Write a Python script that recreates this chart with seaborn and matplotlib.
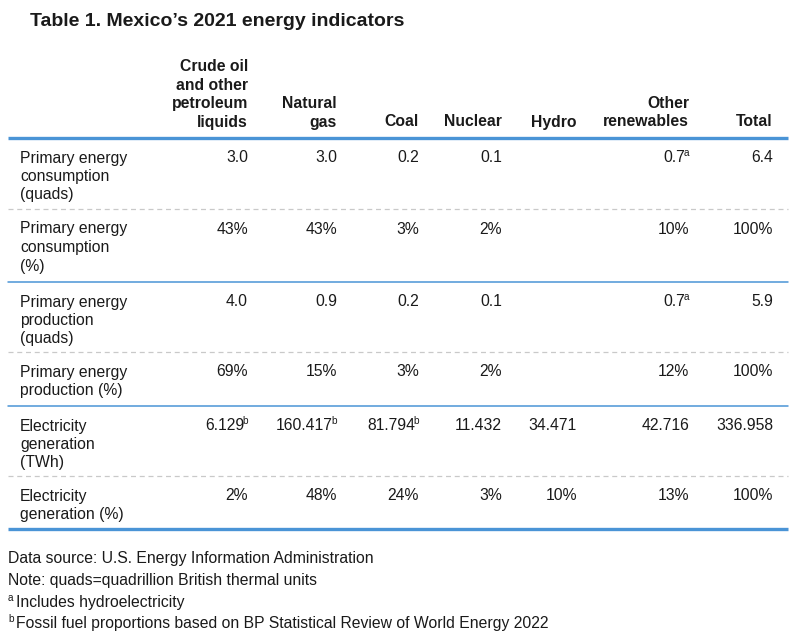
import matplotlib
matplotlib.use("Agg")
import matplotlib.pyplot as plt
import seaborn as sns

sns.set_theme(style="white")
plt.rcParams['font.family'] = ['Liberation Sans', 'DejaVu Sans']

# table content
title = "Table 1. Mexico\u2019s 2021 energy indicators"
columns = ["Crude oil\nand other\npetroleum\nliquids", "Natural\ngas", "Coal",
           "Nuclear", "Hydro", "Other\nrenewables", "Total"]
row_labels = ["Primary energy\nconsumption\n(quads)",
              "Primary energy\nconsumption\n(%)",
              "Primary energy\nproduction\n(quads)",
              "Primary energy\nproduction (%)",
              "Electricity\ngeneration\n(TWh)",
              "Electricity\ngeneration (%)"]

consumption_quads = [3.0, 3.0, 0.2, 0.1, None, 0.7, 6.4]
consumption_pct = [43, 43, 3, 2, None, 10, 100]
production_quads = [4.0, 0.9, 0.2, 0.1, None, 0.7, 5.9]
production_pct = [69, 15, 3, 2, None, 12, 100]
generation_twh = [6.129, 160.417, 81.794, 11.432, 34.471, 42.716, 336.958]
generation_pct = [2, 48, 24, 3, 10, 13, 100]

rows = [consumption_quads, consumption_pct, production_quads,
        production_pct, generation_twh, generation_pct]
formats = ["{:.1f}", "{:.0f}%", "{:.1f}", "{:.0f}%", "{:.3f}", "{:.0f}%"]

# footnote markers: (row, column) -> letter
markers = {(0, 5): "a", (2, 5): "a", (4, 0): "b", (4, 1): "b", (4, 2): "b"}

notes = ["Data source: U.S. Energy Information Administration",
         "Note: quads=quadrillion British thermal units"]
footnotes = [("a", "Includes hydroelectricity"),
             ("b", "Fossil fuel proportions based on BP Statistical Review of World Energy 2022")]

# layout (pixels)
col_right = [248, 337, 419, 502, 577, 689, 773]
row_tops = [138, 209, 282, 352, 406, 476]
row_bottom = 529
line_step = 18.5
blue = "#4a94d6"
ink = "#1a1a1a"
fs = 11.3

fig = plt.figure(figsize=(8, 6.36), dpi=100)
ax = fig.add_axes([0, 0, 1, 1])
ax.set_xlim(0, 800)
ax.set_ylim(636, 0)
ax.axis("off")
renderer = fig.canvas.get_renderer()

ax.text(30, 26, title, fontsize=14, fontweight="bold", color=ink,
        va="baseline", ha="left")

# column headers
for name, x in zip(columns, col_right):
    lines = name.split("\n")
    for k, line in enumerate(reversed(lines)):
        ax.text(x, 126.5 - k * line_step, line, fontsize=fs, fontweight="bold",
                color=ink, ha="right", va="baseline")

# rules
ax.plot([8, 788], [138, 138], color=blue, lw=2.4, solid_capstyle="butt")
ax.plot([8, 788], [row_bottom, row_bottom], color=blue, lw=2.4, solid_capstyle="butt")
for i, y in enumerate(row_tops[1:], start=1):
    if i % 2 == 1:
        ax.plot([8, 788], [y, y], color="#c9c9c9", lw=0.9, ls=(0, (4, 3)))
    else:
        ax.plot([8, 788], [y, y], color=blue, lw=1.1)

# body
for r, (label, vals, fmt) in enumerate(zip(row_labels, rows, formats)):
    base = row_tops[r] + 24.5
    for k, line in enumerate(label.split("\n")):
        ax.text(20, base + k * line_step, line, fontsize=fs, color=ink,
                ha="left", va="baseline")
    for c, v in enumerate(vals):
        if v is None:
            continue
        x = col_right[c]
        mk = markers.get((r, c))
        if mk:
            t = ax.text(x, base - 6, mk, fontsize=7.2, color=ink,
                        ha="right", va="baseline")
            w = t.get_window_extent(renderer).width
            x = x - w + 1.5
        ax.text(x, base, fmt.format(v), fontsize=fs, color=ink,
                ha="right", va="baseline")

# notes
y = 563
for note in notes:
    ax.text(8, y, note, fontsize=fs, color=ink, ha="left", va="baseline")
    y += 21.8
for mk, note in footnotes:
    t = ax.text(8, y - 6, mk, fontsize=7.2, color=ink, ha="left", va="baseline")
    w = t.get_window_extent(renderer).width
    ax.text(8 + w + 3, y, note, fontsize=fs, color=ink, ha="left", va="baseline")
    y += 21.8

fig.savefig("out.png", dpi=100)
plt.close(fig)
